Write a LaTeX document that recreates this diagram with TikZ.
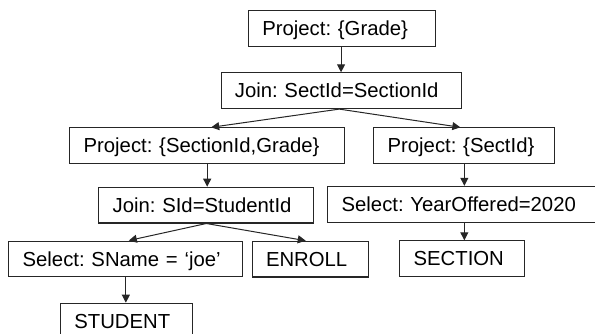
\documentclass[tikz,border=0pt]{standalone}
\usepackage{fontspec}
\setmainfont{Liberation Sans}
\usetikzlibrary{arrows.meta}
\frenchspacing
\tikzset{
  box/.style={draw=black!85, line width=1.1pt, anchor=north west, inner xsep=13.8pt, inner ysep=0pt,
    minimum height=35.7pt, text height=17pt, text depth=2.5pt, align=left, text=black,
    font=\fontsize{20.3}{24}\selectfont\frenchspacing},
  arr/.style={draw=black!85, line width=1pt, -{Triangle[length=8pt,width=8pt]}}
}
\begin{document}
\begin{tikzpicture}[x=1pt,y=-1pt]
\useasboundingbox (0,0) rectangle (595,333);
\node[box, text width=159.4pt] (pg) at (248,10) {Project: \{Grade\}};
\node[box, text width=212.9pt] (js) at (220.5,72.3) {Join: SectId=SectionId};
\node[box, text width=247.1pt] (psg) at (69.3,127.3) {Project: \{SectionId,Grade\}};
\node[box, text width=153.4pt] (ps) at (373.3,127.3) {Project: \{SectId\}};
\node[box, text width=187.4pt] (jsi) at (98.3,186.7) {Join: SId=StudentId};
\node[box, text width=245.1pt] (sy) at (327.3,185.8) {Select: YearOffered=2020};
\node[box, text width=206.4pt] (ssn) at (8.3,240.5) {Select: SName = ‘joe’};
\node[box, text width=88.4pt] (en) at (251.7,240.7) {ENROLL};
\node[box, text width=97.4pt] (sec) at (399.3,240.3) {SECTION};
\node[box, text width=104.1pt] (stu) at (60,302.7) {STUDENT};

\draw[arr] ([xshift=-1pt]pg.south) -- ([xshift=-1pt]pg.south |- js.north);
\draw[arr] ([xshift=-2pt]js.south) -- ([xshift=4pt]psg.north);
\draw[arr] ([xshift=-2pt]js.south) -- ([xshift=-4pt]ps.north);
\draw[arr] (psg.south) -- (psg.south |- jsi.north);
\draw[arr] (ps.south) -- (ps.south |- sy.north);
\draw[arr] (jsi.south) -- ([xshift=3pt]ssn.north);
\draw[arr] (jsi.south) -- ([xshift=-4.5pt]en.north);
\draw[arr] (ps.south |- sy.south) -- (ps.south |- sec.north);
\draw[arr] (ssn.south) -- (ssn.south |- stu.north);
\end{tikzpicture}
\end{document}
